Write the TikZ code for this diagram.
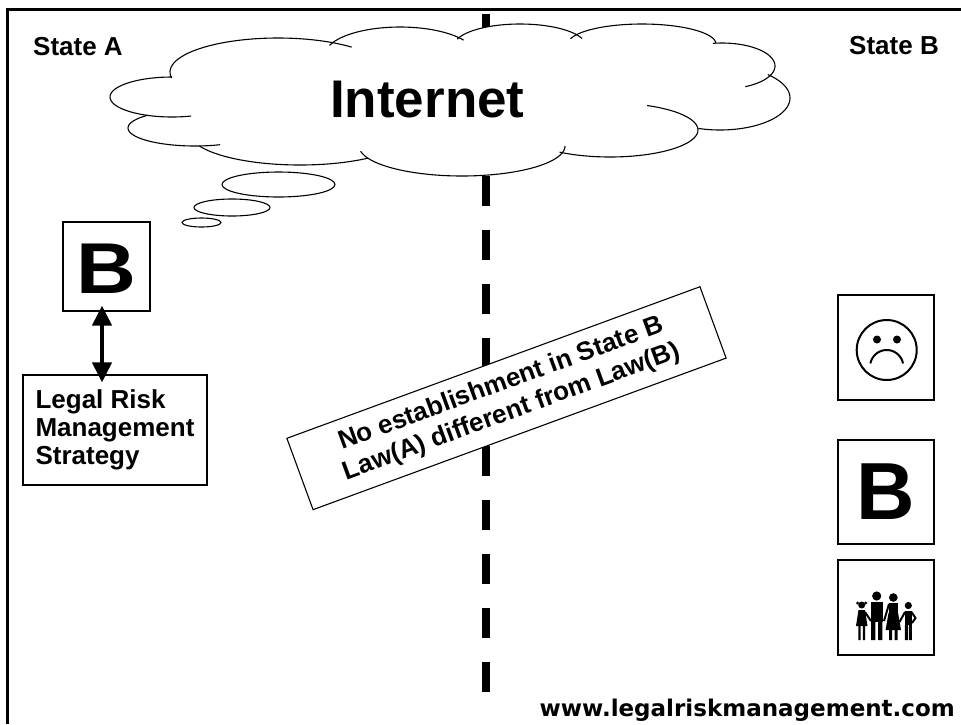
\documentclass[tikz,border=0pt]{standalone}
\usepackage{fontspec}
\setmainfont{Liberation Sans}
\newfontfamily\urlfont{DejaVu Sans}
\usetikzlibrary{arrows.meta}
\tikzset{%
  edgeline/.style = {line width=3pt},
  statesplit/.style = {line width=8.5pt, dash pattern=on 30pt off 24pt},
  box/.style = {rectangle, draw, line width=1.1pt, inner sep=0pt},
  lbl/.style = {font=\fontsize{26}{28}\selectfont\bfseries, inner sep=0pt},
  bigletter/.style = {font=\fontsize{81}{81}\selectfont\bfseries, inner sep=0pt},
  twoway/.style = {{Triangle[width=19pt,length=20pt]}-{Triangle[width=19pt,length=20pt]},
        line width=4pt},
  puff/.style = {line width=1.1pt}
}
% centre x/centre y/x radius/y radius/from/to of each puff of the cloud
\newcommand\cloudlobes{172/97/62/20/72/270, 278/72/108/34/170/313,
  400/55/75/28/200/328, 520/46/66/22/198/340, 642/44/74/20/195/358,
  722/66/53/23/-100/64, 720/98/70/32/-47/108, 610/130/88/27/-65/125,
  462/146/103/30/0/170, 300/133/110/32/52/156, 195/128/67/18/68/225}

\begin{document}
\begin{tikzpicture}[x=1pt,y=-1pt]
\useasboundingbox (0,0) rectangle (961,724);
\draw[edgeline] (7.5,724) -- (7.5,9.5) -- (961,9.5);
\draw[statesplit] (486,14) -- (486,692);

% cloud
\foreach \cx/\cy/\rx/\ry/\a/\b in \cloudlobes
  \fill[white] (\cx,\cy) ellipse[x radius=\rx, y radius=\ry];
\fill[white] (455,95) ellipse[x radius=250, y radius=55];
\foreach \cx/\cy/\rx/\ry/\a/\b in \cloudlobes
  \draw[puff] plot[domain=\a:\b, samples=40, smooth, variable=\t]
    ({\cx+\rx*cos(\t)},{\cy+\ry*sin(\t)});
\draw[puff, fill=white] (278.5,184.5) ellipse[x radius=56.5, y radius=12.5];
\draw[puff, fill=white] (232,207.5) ellipse[x radius=38, y radius=8.5];
\draw[puff, fill=white] (201.5,222.5) ellipse[x radius=19.5, y radius=4.5];
\node[anchor=base west, inner sep=0pt, font=\fontsize{53}{53}\selectfont\bfseries]
  (net) at (330,117) {Internet};

% state A
\node[lbl, anchor=base west] (sa) at (33,55) {State A};
\node[box, minimum width=87pt, minimum height=89pt] (bleft) at (106.5,266.5) {};
\node[bigletter, font=\fontsize{72}{72}\selectfont\bfseries] (bl) at (106,269)
  {\scalebox{1.15}[1]{B}};
\node[box, lbl, minimum width=184pt, minimum height=110pt, align=left]
  (legal) at (115,430) {Legal Risk\\Management\\Strategy};
\draw[twoway] ([xshift=-4.5pt,yshift=6pt]bleft.south)
  -- ([xshift=-13pt,yshift=-8pt]legal.north);

% the border
\node[box, lbl, fill=white, rotate=20.15, minimum width=440pt, minimum height=76pt,
  align=center, font=\fontsize{26}{30}\selectfont\bfseries]
  (noest) at (506.5,398.2) {No establishment in State B\\Law(A) different from Law(B)};

% state B
\node[lbl, anchor=base east] (sb) at (939,54) {State B};
\node[box, minimum width=96pt, minimum height=105pt] (sad) at (886,347.5) {};
\draw[line width=2pt] (886.7,350) circle[radius=30];
\fill (877,339.5) circle[radius=4];
\fill (897,339.5) circle[radius=4];
\draw[line width=2pt] plot[domain=191:349, samples=30, smooth, variable=\t]
  ({886.7+16.6*cos(\t)},{366.6+16.6*sin(\t)});
\node[box, minimum width=96pt, minimum height=104pt] (bright) at (886,492) {};
\node[bigletter] (br) at (886,492) {B};
\node[box, minimum width=96pt, minimum height=95pt] (family) at (886,607.5) {};
% girl
\fill (861.7,605) circle[radius=3.5];
\fill (857.6,603) circle[radius=1.6] (865.8,603) circle[radius=1.6];
\fill (858.5,610) -- (865,610) -- (867.5,626) -- (856,626) -- cycle;
\fill (858.3,626) rectangle (860.5,640) (862.9,626) rectangle (865.1,640);
\draw[line width=2pt] (865,612) -- (871,621);
% man
\fill (876.7,596) circle[radius=4.6];
\fill (870.5,602) rectangle (883,622);
\fill (871,622) rectangle (875.3,640) (878.1,622) rectangle (882.4,640);
% woman
\fill (893.3,597.5) circle[radius=4.3];
\fill (888.8,603) rectangle (897.8,614);
\fill (888.5,613) -- (898.1,613) -- (901,630) -- (885.6,630) -- cycle;
\fill (889,630) rectangle (892,640) (894.6,630) rectangle (897.6,640);
\draw[line width=2pt] (889,604) -- (884,621);
% boy
\fill (908.3,605.5) circle[radius=3.6];
\fill (904.5,611) rectangle (912.1,625);
\fill (904.8,625) rectangle (907.8,640) (908.8,625) rectangle (911.8,640);
\draw[line width=2pt] (905,612) -- (899.5,622);
\draw[line width=2pt] (911.5,612) -- (915.5,618) -- (912,623);

\node[anchor=base east, inner sep=0pt, font=\urlfont\bfseries\fontsize{23}{23}\selectfont]
  (url) at (955,716) {www.legalriskmanagement.com};
\end{tikzpicture}
\end{document}
